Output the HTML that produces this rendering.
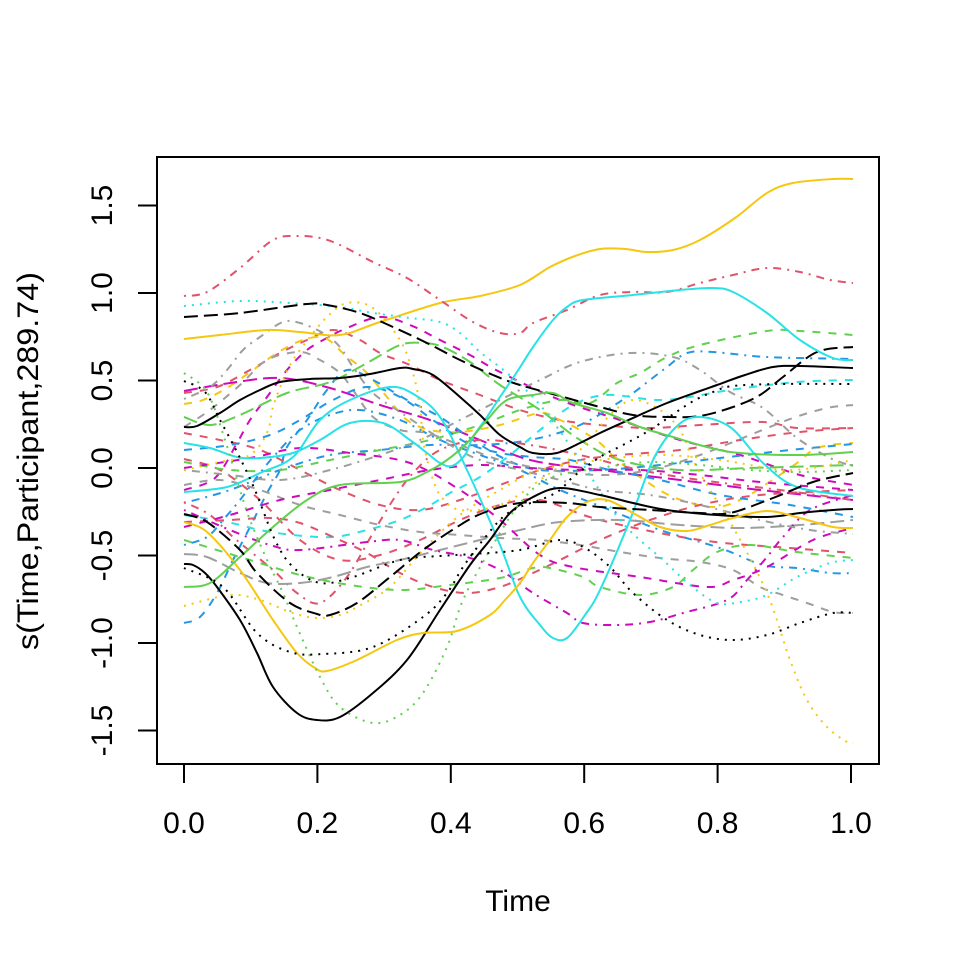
<!DOCTYPE html>
<html><head><meta charset="utf-8"><style>
html,body{margin:0;padding:0;background:#fff;}
svg{display:block;}
polyline,path.c{fill:none;stroke-width:2;stroke-linejoin:round;}
.d2{stroke-dasharray:8 8}.d3{stroke-dasharray:2 6}.d4{stroke-dasharray:2 6 8 6}.d5{stroke-dasharray:14 6}.d6{stroke-dasharray:4 4 12 4}
text{font-family:"Liberation Sans",Arial,sans-serif;font-size:30px;fill:#000;}
</style></head><body>
<svg id="plt" width="960" height="960" viewBox="0 0 960 960" xmlns="http://www.w3.org/2000/svg">
<rect width="960" height="960" fill="#fff"/>
<g id="curves">
<polyline class="d2" stroke="#CD0BBC" points="184,490 215,478 237,443 250,420 267,397 287,370 307,350 327,338 347,328 380,317 410,325 440,340 470,355 500,372 560,400 620,420 680,440 740,455 800,475 853,485"/>
<polyline class="d2" stroke="#DF536B" points="184,393 217,387 250,370 280,353 307,340 333,330 360,340 380,353 410,365 440,380 480,395 520,410 560,420 600,425 650,428 700,425 763,422 797,428 853,428"/>
<polyline class="d2" stroke="#F5C710" points="184,404 203,400 227,388 253,370 277,353 303,340 325,338 345,355 367,373 387,397 407,420 430,430 460,432 500,425 540,413 560,420 580,430 600,443 617,460 640,477 673,497 713,507 740,500 765,485 797,463 813,450 830,445 853,443"/>
<polyline class="d5" stroke="#CD0BBC" points="184,391 230,383 280,378 330,388 380,405 430,420 480,440 530,460 600,470 680,480 760,490 853,500"/>
<polyline class="d2" stroke="#2297E6" points="184,623 200,617 217,593 233,560 250,527 267,493 280,470 287,447 307,420 327,390 347,370 373,380 407,400 440,417 473,440 507,460 540,470 600,470 660,465 720,458 790,450 853,444"/>
<polyline class="d4" stroke="#2297E6" points="184,545 207,537 223,520 240,500 257,477 275,455 300,430 330,415 360,410 400,420 440,440 480,455 520,470 560,490 610,510 660,530 720,548 763,565 797,568 830,573 853,573"/>
<polyline class="d4" stroke="#2297E6" points="184,503 230,490 280,470 330,455 380,450 430,445 480,445 530,440 580,425 627,397 650,380 667,367 687,353 713,352 767,357 853,359"/>
<polyline class="d2" stroke="#28E2E5" points="184,515 227,522 260,530 293,535 333,537 367,530 400,520 427,507 450,493 480,477 510,455 540,430 573,405 607,395 657,400 690,397 730,390 797,382 853,380"/>
<polyline class="d2" stroke="#DF536B" points="184,459 220,470 260,500 300,540 340,560 380,555 420,540 460,520 500,505 540,500 600,520 700,540 790,548 853,553"/>
<polyline class="d4" stroke="#DF536B" points="184,502 210,515 233,537 273,570 297,593 320,603 347,577 373,533 393,500 413,473 440,450 480,440 530,445 580,455 640,470 700,480 780,490 853,500"/>
<polyline class="d2" stroke="#DF536B" points="184,522 230,520 270,518 300,523 333,537 367,553 400,573 433,587 467,593 500,587 533,573 560,560 600,540 650,520 700,505 760,495 853,490"/>
<polyline class="d5" stroke="#9E9E9E" points="184,554 207,557 240,573 267,583 300,583 333,577 367,567 400,560 440,550 480,540 520,530 560,522 620,520 680,525 740,528 800,525 853,520"/>
<polyline class="d2" stroke="#9E9E9E" points="184,485 220,480 260,490 300,505 340,515 380,525 420,532 460,535 500,538 540,540 580,545 620,552 660,558 700,562 733,570 760,587 783,595 807,603 833,612 853,613"/>
<polyline class="d2" stroke="#9E9E9E" points="184,427 210,410 240,385 267,360 300,352 320,360 340,373 353,390 373,417 400,430 427,433 460,445 500,460 550,470 600,475 650,470 700,455 750,435 793,418 827,408 853,405"/>
<polyline class="d2" stroke="#DF536B" points="184,433 220,440 260,450 300,470 340,490 380,505 420,510 460,500 500,485 540,470 580,460 620,455 680,450 740,440 800,432 853,428"/>
<polyline class="d2" stroke="#61D04F" points="184,462 230,470 280,470 330,460 380,450 430,440 480,425 520,410 560,400 590,403 617,383 640,373 667,357 700,345 767,331 800,331 853,335"/>
<polyline class="d5" stroke="#61D04F" points="184,417 210,425 240,415 287,393 330,382 367,363 400,345 423,343 443,347 470,362 500,385 540,410 580,440 620,460 680,470 750,468 853,465"/>
<polyline class="d2" stroke="#61D04F" points="184,540 250,560 300,575 350,585 400,590 450,585 500,578 533,568 550,568 583,577 600,587 640,595 673,587 693,570 717,552 750,545 797,552 853,558"/>
<polyline class="d4" stroke="#CD0BBC" points="184,510 230,530 270,545 300,550 367,542 400,540 433,550 467,557 500,570 533,593 567,613 583,623 617,625 650,622 683,613 727,600 747,580 767,557 783,537 810,510 853,495"/>
<polyline class="d2" stroke="#CD0BBC" points="184,527 230,515 280,500 330,490 380,480 430,470 480,465 530,468 580,470 640,470 700,475 760,482 853,490"/>
<polyline class="d2" stroke="#2297E6" points="184,450 230,445 270,435 300,420 333,400 367,387 400,397 433,420 467,443 500,453 533,457 570,460 610,470 660,480 720,495 790,505 853,517"/>
<polyline class="d2" stroke="#CD0BBC" points="184,468 250,458 300,448 350,453 410,463 460,490 500,520 540,555 573,567 640,577 707,587 733,580 767,567 813,540 853,528"/>
<polyline class="d4" stroke="#9E9E9E" points="184,399 210,387 227,370 243,350 260,337 283,322 300,323 323,333 340,347 353,367 373,393 400,412 427,430 450,445 480,460 520,470 560,480 600,490 650,495 700,505 760,520 810,530 853,534"/>
<polyline class="d4" stroke="#9E9E9E" points="184,470 230,475 280,480 330,470 380,455 420,440 460,420 500,400 540,380 580,362 630,353 673,357 700,370 730,392 763,408 797,438 830,458 853,466"/>
<polyline class="d3" stroke="#F5C710" points="184,606 230,595 260,600 290,612 315,618 340,615 357,607 390,587 423,550 460,515 500,490 540,470 600,460 660,455 720,460 790,470 853,460"/>
<polyline class="d3" stroke="#F5C710" points="184,470 220,462 250,455 267,433 273,407 283,380 293,360 310,337 327,317 347,303 373,308 400,340 413,373 420,407 423,440 430,470 440,495 460,510 500,505 540,480 580,450 610,415 633,400 660,410 680,430 693,460 710,490 733,527 767,593 790,660 807,700 827,727 847,742 853,743"/>
<polyline stroke="#F5C710" points="184,339 220,335 267,330 300,332 340,335 380,322 440,303 480,296 520,285 550,267 575,256 600,249 625,249 647,252 673,250 700,240 735,218 767,193 793,183 833,179 853,179"/>
<polyline class="d4" stroke="#DF536B" points="184,296 207,292 240,268 273,240 297,236 320,238 340,245 373,262 407,278 440,300 473,322 500,333 520,333 533,323 567,310 600,295 633,292 667,292 700,283 733,275 767,268 800,272 830,280 853,283"/>
<polyline class="d3" stroke="#28E2E5" points="184,306 240,301 290,303 340,307 373,313 410,318 440,322 460,333 480,352 507,373 540,405 580,460 620,520 663,560 690,585 717,603 740,602 767,595 797,577 830,563 853,560"/>
<polyline class="d5" stroke="#000" points="184,317 240,313 307,304 327,305 360,313 393,327 427,343 460,360 493,375 520,385 567,398 600,407 633,415 667,417 700,416 733,407 760,395 783,377 817,352 853,347"/>
<polyline stroke="#28E2E5" points="184,492 227,487 260,473 293,457 320,420 350,400 390,387 415,395 440,417 467,470 500,545 520,597 540,625 553,638 567,638 585,615 600,590 630,520 653,460 675,428 697,417 730,427 763,463 797,487 853,496"/>
<polyline stroke="#28E2E5" points="184,443 210,448 237,457 260,458 293,453 320,440 350,423 383,423 410,440 427,453 440,463 452,466 465,455 473,437 487,417 500,397 517,372 533,347 553,320 567,307 583,300 633,295 680,290 713,288 733,292 767,313 800,340 833,358 853,360"/>
<polyline stroke="#000" points="184,427 197,426 220,413 240,400 260,390 280,382 310,379 340,378 370,374 400,368 413,369 433,375 460,397 480,415 500,435 520,447 533,453 557,453 580,443 600,433 633,418 667,403 700,391 717,385 745,375 773,367 800,366 853,368"/>
<polyline stroke="#000" points="184,564 193,565 205,573 217,587 240,620 257,653 273,687 297,713 317,720 340,717 373,693 407,660 440,610 470,565 490,540 510,513 533,497 560,488 600,495 633,503 667,510 717,515 767,517 800,513 833,510 853,509"/>
<polyline stroke="#F5C710" points="184,522 207,532 240,570 273,620 297,653 315,668 327,671 357,660 397,640 423,633 457,631 490,615 505,600 520,583 533,563 550,540 567,517 587,502 607,500 633,513 660,527 687,531 710,525 733,518 767,511 800,518 833,527 853,528"/>
<polyline class="d3" stroke="#61D04F" points="184,373 207,392 225,440 240,490 250,520 267,560 283,593 297,627 320,677 340,707 373,723 400,715 423,693 447,647 463,600 490,550 520,503 550,478 600,468 650,462 700,465 750,470 800,472 853,470"/>
<polyline stroke="#61D04F" points="184,587 210,583 240,557 273,527 307,500 340,485 400,482 427,472 447,460 467,443 487,420 507,400 533,395 553,393 573,403 607,413 640,427 673,437 707,447 740,453 800,455 853,452"/>
<polyline class="d3" stroke="#000" points="184,568 223,587 257,633 290,652 323,654 373,647 423,617 447,593 463,567 483,540 503,517 520,507 545,498 560,490 573,477 600,457 623,445 650,430 690,403 713,392 733,386 780,384 853,384"/>
<polyline class="d3" stroke="#000" points="184,381 205,392 220,420 237,452 255,490 275,540 293,567 320,583 353,577 400,560 440,556 473,554 520,550 560,540 585,548 610,567 633,593 667,620 700,635 733,640 767,635 800,623 833,613 853,613"/>
<polyline class="d5" stroke="#000" points="184,514 207,522 240,550 257,573 290,603 317,614 330,615 357,603 390,577 423,550 457,527 483,513 520,503 567,503 600,507 650,510 700,513 730,513 773,498 813,482 853,473"/>
</g>
<rect x="157" y="157" width="722" height="607" fill="none" stroke="#000" stroke-width="2"/>
<g stroke="#000" stroke-width="2">
<line x1="184" y1="764" x2="184" y2="783"/>
<line x1="317.4" y1="764" x2="317.4" y2="783"/>
<line x1="450.8" y1="764" x2="450.8" y2="783"/>
<line x1="584.2" y1="764" x2="584.2" y2="783"/>
<line x1="717.6" y1="764" x2="717.6" y2="783"/>
<line x1="851" y1="764" x2="851" y2="783"/>
<line x1="157" y1="205.5" x2="138" y2="205.5"/>
<line x1="157" y1="293" x2="138" y2="293"/>
<line x1="157" y1="380.5" x2="138" y2="380.5"/>
<line x1="157" y1="468" x2="138" y2="468"/>
<line x1="157" y1="555.5" x2="138" y2="555.5"/>
<line x1="157" y1="643" x2="138" y2="643"/>
<line x1="157" y1="730.5" x2="138" y2="730.5"/>
</g>
<g text-anchor="middle">
<text x="184" y="833">0.0</text>
<text x="317.4" y="833">0.2</text>
<text x="450.8" y="833">0.4</text>
<text x="584.2" y="833">0.6</text>
<text x="717.6" y="833">0.8</text>
<text x="851" y="833">1.0</text>
<text transform="translate(112,205.5) rotate(-90)">1.5</text>
<text transform="translate(112,293) rotate(-90)">1.0</text>
<text transform="translate(112,380.5) rotate(-90)">0.5</text>
<text transform="translate(112,468) rotate(-90)">0.0</text>
<text transform="translate(112,555.5) rotate(-90)">-0.5</text>
<text transform="translate(112,643) rotate(-90)">-1.0</text>
<text transform="translate(112,730.5) rotate(-90)">-1.5</text>
<text x="518" y="911">Time</text>
<text transform="translate(38,461) rotate(-90)" textLength="378" lengthAdjust="spacingAndGlyphs">s(Time,Participant,289.74)</text>
</g>
</svg>
<script>
(function(){
  try{
    var NS="http://www.w3.org/2000/svg";
    var pls=document.querySelectorAll("#curves polyline");
    for(var k=0;k<pls.length;k++){
      var pl=pls[k];
      var raw=pl.getAttribute("points").trim().split(/\s+/);
      var p=[];
      for(var i=0;i<raw.length;i++){var xy=raw[i].split(",");p.push([+xy[0],+xy[1]]);}
      if(p.length<3) continue;
      var d="M"+p[0][0]+","+p[0][1];
      for(var i=0;i<p.length-1;i++){
        var p0=p[i>0?i-1:i],p1=p[i],p2=p[i+1],p3=p[i+2<p.length?i+2:i+1];
        var c1x=p1[0]+(p2[0]-p0[0])/6,c1y=p1[1]+(p2[1]-p0[1])/6;
        var c2x=p2[0]-(p3[0]-p1[0])/6,c2y=p2[1]-(p3[1]-p1[1])/6;
        d+=" C"+c1x.toFixed(1)+","+c1y.toFixed(1)+" "+c2x.toFixed(1)+","+c2y.toFixed(1)+" "+p2[0]+","+p2[1];
      }
      var path=document.createElementNS(NS,"path");
      path.setAttribute("d",d);
      path.setAttribute("stroke",pl.getAttribute("stroke"));
      var cls=pl.getAttribute("class");
      path.setAttribute("class","c"+(cls?" "+cls:""));
      pl.parentNode.replaceChild(path,pl);
    }
  }catch(e){}
})();
</script>
</body></html>
